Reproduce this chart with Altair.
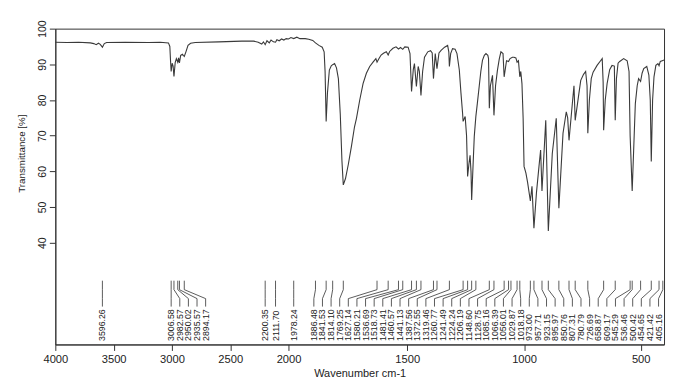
import altair as alt
import numpy as np
import pandas as pd

# ---- spectrum (wavenumber cm-1, transmittance %) ----
wavenumber = [
    4000, 3900, 3800, 3700, 3670, 3650, 3630, 3615, 3596, 3580, 3560, 3400, 3200, 3100,
    3030, 3018, 3012, 3006.6, 2998, 2990, 2982.6, 2972, 2962, 2950, 2943, 2935.6, 2925,
    2910, 2900, 2894.2, 2880, 2862, 2840, 2800, 2600, 2400, 2300, 2260, 2230, 2215, 2200.4,
    2185, 2165, 2150, 2130, 2111.7, 2100, 2080, 2060, 2040, 2020, 2000,
    1990, 1978.2, 1965, 1952, 1930, 1915, 1898, 1886.5, 1872, 1858, 1850, 1846, 1841.5,
    1836, 1828, 1820, 1814.1, 1806, 1798, 1790, 1782, 1775, 1769.3, 1760, 1748, 1735,
    1722, 1714, 1700, 1686, 1672, 1658, 1644, 1632, 1627.1, 1620, 1610, 1600, 1588,
    1580.2, 1574, 1560, 1547, 1536.7, 1528, 1518.7, 1510, 1496, 1488, 1481.4, 1474, 1469,
    1460.6, 1453, 1448, 1441.1, 1434, 1426, 1412, 1400, 1393, 1387.6, 1380, 1372.6, 1364,
    1355, 1340, 1327, 1322, 1319.5, 1314, 1306, 1295, 1287, 1277, 1270, 1263, 1260.8,
    1252, 1246, 1241.5, 1236, 1231, 1227, 1224.2, 1218, 1213, 1206.2, 1200, 1192, 1185,
    1178, 1170, 1163, 1155, 1152, 1148.6, 1144, 1135, 1128.8, 1122, 1114, 1106, 1099,
    1090, 1085.2, 1075, 1066.4, 1060, 1050, 1043, 1035, 1029.9, 1024, 1018.2, 1014, 1009,
    1004, 1000, 992, 985, 973, 966, 957.7, 947, 936, 929, 923.2, 907, 896, 879, 862,
    850.8, 833, 819, 813, 807.3, 793, 786, 780.8, 765, 757, 745, 736, 730, 726.7, 720,
    712, 704, 687, 672, 665, 661, 658.9, 652, 644, 633, 623, 613, 609.2, 604, 597, 590,
    573, 558, 550, 545.3, 536.5, 528, 523, 515, 509, 500.4, 494, 487, 474, 465, 459,
    454.7, 449, 443, 435, 426, 421.4, 416, 405, 400,
]
transmittance = [
    96.2, 96.1, 96.2, 96.0, 95.8, 95.5, 95.9, 95.6, 94.8, 95.8, 96.1, 96.2, 96.1, 96.2,
    96.0, 95.0, 91.0, 88.0, 90.3, 89.5, 86.6, 90.5, 91.6, 90.6, 91.8, 90.4, 92.5,
    92.8, 92.4, 92.2, 93.5, 95.3, 95.9, 96.1, 96.3, 96.5, 96.5, 96.2, 95.7, 96.3, 95.5,
    96.6, 96.0, 96.8, 96.3, 96.2, 96.9, 96.6, 97.1, 96.8, 97.2, 97.1,
    97.5, 97.2, 97.6, 97.2, 97.2, 97.0, 96.7, 96.0, 95.3, 94.8, 93.5, 88.0, 74.0,
    82.0, 88.4, 89.6, 89.9, 90.2, 89.0, 86.0, 76.0, 63.0, 56.2, 58.0, 62.0, 67.0,
    72.5, 74.8, 80.0, 84.6, 87.5, 89.4, 90.6, 91.6, 90.6, 91.5, 92.6, 93.1, 93.5,
    92.6, 93.6, 94.5, 94.9, 94.3, 94.7, 94.2, 94.9, 94.8, 93.0, 82.4, 88.5, 90.2,
    83.8, 89.4, 88.0, 81.3, 88.0, 92.0, 93.5, 93.8, 93.2, 86.0, 93.0, 88.8, 93.2,
    93.9, 94.8, 95.3, 93.5, 89.4, 93.0, 94.4, 94.2, 93.0, 88.4, 82.0, 76.3, 74.0,
    75.4, 70.0, 58.6, 62.0, 64.5, 60.0, 52.0, 62.0, 69.8, 75.4, 79.0, 83.8, 88.0,
    91.1, 92.5, 93.0, 92.5, 91.6, 77.7, 84.0, 86.9, 75.7, 84.0, 88.3, 91.5, 93.5,
    93.0, 86.5, 91.0, 90.8, 91.6, 92.0, 92.0, 91.8, 90.6, 91.0, 86.5, 88.0, 84.6,
    75.0, 61.4, 59.5, 57.0, 51.7, 55.8, 44.1, 53.9, 61.4, 66.0, 54.5, 74.3, 43.3, 65.0, 74.9,
    49.7, 70.7, 76.7, 75.0, 68.7, 79.0, 84.0, 74.3, 81.8, 85.5, 87.2, 88.0, 84.0, 70.7, 80.0,
    86.0, 87.8, 89.7, 91.0, 91.6, 85.0, 71.5, 80.0, 84.6, 88.5, 89.7, 89.5, 74.3, 86.0, 90.3, 90.8,
    91.6, 91.0, 88.0, 70.0, 54.5, 70.0, 79.0, 84.0, 86.0, 85.2, 87.5, 88.8, 89.4, 87.0, 80.0,
    62.8, 80.0, 86.5, 89.7, 90.2, 89.6, 90.8, 91.1, 91.2,
]

# ---- picked peak labels ----
peaks = [
    3596.26, 3006.58, 2982.57, 2950.02, 2935.57, 2894.17, 2200.35, 2111.70, 1978.24,
    1886.48, 1841.53, 1814.10, 1769.25, 1627.14, 1580.21, 1536.69, 1518.73, 1481.41,
    1460.57, 1441.13, 1387.56, 1372.55, 1319.46, 1260.77, 1241.49, 1224.24, 1206.19,
    1148.60, 1128.75, 1085.16, 1066.39, 1056.01, 1029.87, 1018.18, 973.00, 957.71,
    923.15, 895.97, 850.76, 807.31, 780.79, 726.69, 658.87, 609.17, 545.29, 536.46,
    500.42, 454.65, 421.42, 405.16,
]

x_ticks = [4000, 3500, 3000, 2500, 2000, 1500, 1000, 500]
y_ticks = [40, 50, 60, 70, 80, 90, 100]

# ---- layout ----
W, H = 611, 317
x_dom = [4000, 2000, 1500, 1000, 400]
x_rng = [0, 234.1, 353.2, 470.5, W]
GAP = 8.65
RIGHT = 605.5


def to_px(w):
    return np.interp(w, x_dom[::-1], x_rng[::-1])


def to_wn(p):
    return np.interp(p, x_rng, x_dom)


px = list(to_px(np.array(peaks)))
for i in range(1, len(px)):
    px[i] = max(px[i], px[i - 1] + GAP)
px[-1] = min(px[-1], RIGHT)
for i in range(len(px) - 2, -1, -1):
    px[i] = min(px[i], px[i + 1] - GAP)
lab_wn = list(to_wn(np.array(px)))

spec = pd.DataFrame({"wn": wavenumber, "T": transmittance})
labs = pd.DataFrame({"peak": peaks, "lab": lab_wn, "text": [f"{p:.2f}" for p in peaks]})

FONT = "Liberation Sans"
INK = "#333333"

xscale = alt.Scale(domain=x_dom, range=x_rng, nice=False, zero=False)
yscale = alt.Scale(domain=[11.5, 100], nice=False, zero=False)

line = alt.Chart(spec).mark_line(color="#3a3a3a", strokeWidth=1.1).encode(
    x=alt.X("wn:Q", scale=xscale, sort=None,
            axis=alt.Axis(values=x_ticks, title="Wavenumber cm-1", format="d", grid=False,
                          tickSize=6, labelFontSize=11.2, titleFontSize=11, labelFlush=False,
                          labelPadding=3, titlePadding=3, labelFont=FONT, titleFont=FONT,
                          titleFontWeight="normal", labelColor="#222", titleColor="#222",
                          domainColor=INK, tickColor=INK)),
    y=alt.Y("T:Q", scale=yscale,
            axis=alt.Axis(values=y_ticks, title="Transmittance [%]", grid=False,
                          tickSize=6, labelAngle=270, labelAlign="center",
                          labelBaseline="bottom", labelPadding=2, labelFontSize=10.5,
                          titleFontSize=9.8, titleAngle=270, titleBaseline="middle",
                          titleX=-33.5, titleY=125, labelFont=FONT, titleFont=FONT,
                          titleFontWeight="normal", labelColor="#222", titleColor="#222",
                          domainColor=INK, tickColor=INK)),
    order=alt.Order("idx:Q"),
).transform_window(idx="row_number()")

Y1, Y2, Y3, Y4, YT = 253, 262, 271, 279, 313.5

lead_top = alt.Chart(labs).mark_rule(color=INK, strokeWidth=0.8).encode(
    x=alt.X("peak:Q", scale=xscale), y=alt.value(Y1), y2=alt.value(Y2))
lead_mid = alt.Chart(labs).mark_rule(color=INK, strokeWidth=0.8).encode(
    x=alt.X("peak:Q", scale=xscale), x2="lab:Q", y=alt.value(Y2), y2=alt.value(Y3))
lead_bot = alt.Chart(labs).mark_rule(color=INK, strokeWidth=0.8).encode(
    x=alt.X("lab:Q", scale=xscale), y=alt.value(Y3), y2=alt.value(Y4))
texts = alt.Chart(labs).mark_text(angle=270, align="left", baseline="middle",
                                  fontSize=8.8, font=FONT, color="#222").encode(
    x=alt.X("lab:Q", scale=xscale), y=alt.value(YT), text="text:N")

chart = alt.layer(line, lead_top, lead_mid, lead_bot, texts).properties(
    width=W, height=H,
    padding={"left": 8.5, "top": 11, "right": 5, "bottom": 5},
    background="white",
).configure_view(stroke=INK, strokeWidth=1)

chart.save("out.html", embed_options={"renderer": "svg", "actions": False})
